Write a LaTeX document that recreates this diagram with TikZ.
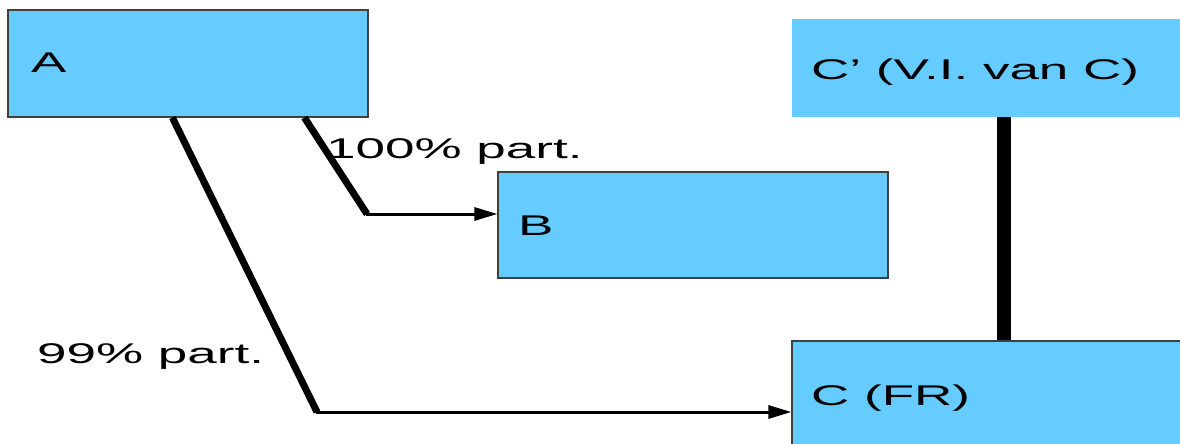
\documentclass[tikz,border=0pt]{standalone}
\usepackage{fontspec}
\setmainfont{Liberation Sans}
\usetikzlibrary{arrows.meta,calc}
\definecolor{boxblue}{HTML}{66CCFF}
\definecolor{boxedge}{HTML}{404040}
\newcommand\widetext[1]{\scalebox{1.86}[1]{#1}}
\begin{document}
\begin{tikzpicture}[x=1pt,y=-1pt,
  entity/.style={draw=boxedge,line width=1.2pt,fill=boxblue,inner sep=0pt},
  plainentity/.style={fill=boxblue,draw=none,inner sep=0pt},
  lbl/.style={anchor=base west,inner sep=0pt,font=\fontsize{28.5}{32}\selectfont},
  share/.style={line width=7pt,line cap=butt,line join=round},
  feed/.style={line width=3pt,-{Triangle[length=23pt,width=13pt]}},
  linkbar/.style={line width=14pt}]
\useasboundingbox (0,0) rectangle (1180,444);
% boxes
\node[entity,minimum width=360pt,minimum height=107pt] (A) at (188,63.5) {};
\node[entity,minimum width=390pt,minimum height=106pt] (B) at (693,225) {};
\node[plainentity,minimum width=392pt,minimum height=98pt] (Cp) at (988,68) {};
\node[entity,minimum width=392pt,minimum height=106pt] (C) at (988,394) {};
% box texts
\node[lbl] (At) at (31,73) {\widetext{A}};
\node[lbl] (Bt) at (518,235) {\widetext{B}};
\node[lbl] (Cpt) at (811,79) {\widetext{C’ (V.I. van C)}};
\node[lbl] (Ct) at (811,405) {\widetext{C (FR)}};
% share labels
\node[lbl] (pB) at (326,158) {\widetext{100\% part.}};
\node[lbl] (pC) at (37,363) {\widetext{99\% part.}};
% bends of the shareholding arrows
\coordinate (Astart1) at ($(A.south west)+(297,0)$);
\coordinate (bendB) at (367,214);
\coordinate (Astart2) at ($(A.south west)+(165,0)$);
\coordinate (bendC) at (317,412);
\draw[share] (Astart1) -- (bendB);
\draw[feed] ([xshift=-1pt]bendB) -- (B.west |- bendB);
\draw[share] (Astart2) -- (bendC);
\draw[feed] ([xshift=-1pt]bendC) -- (C.west |- bendC);
% link between C' and C
\draw[linkbar] (Cp.south -| 1004,0) -- (C.north -| 1004,0);
\end{tikzpicture}
\end{document}
